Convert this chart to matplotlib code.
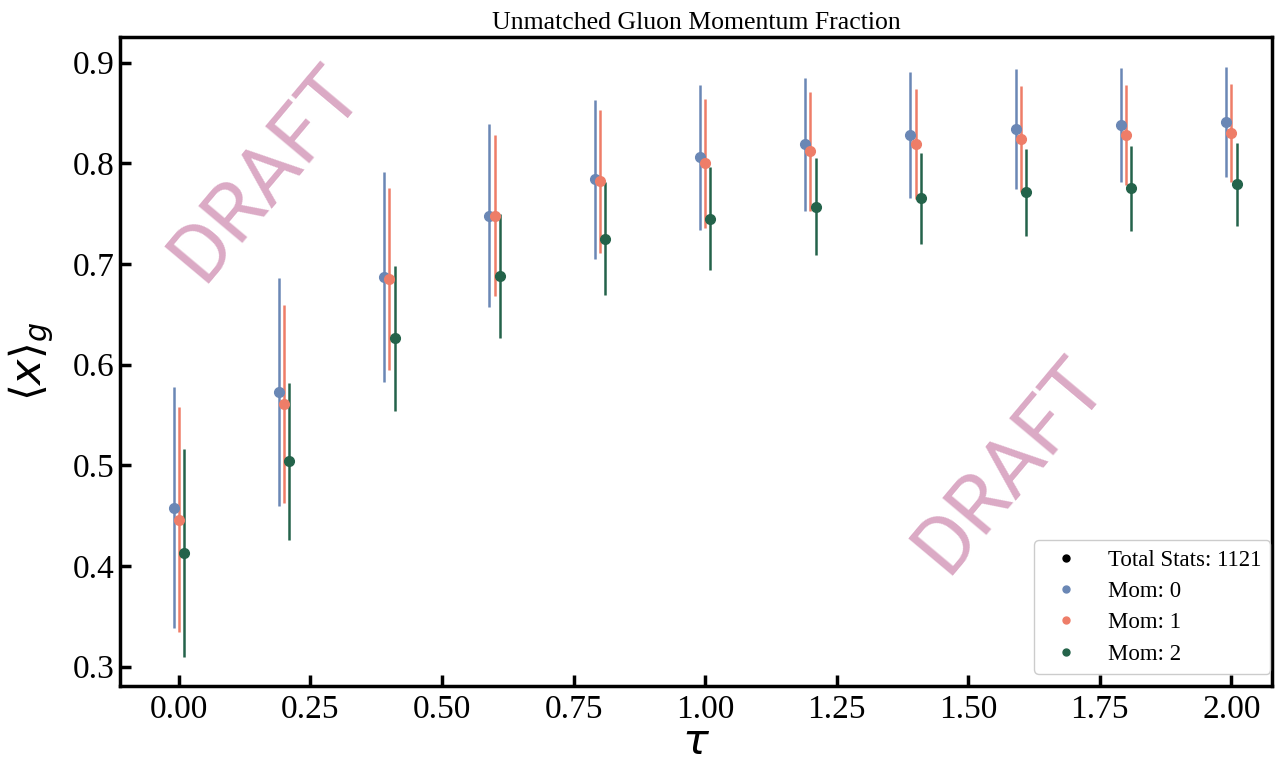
import numpy as np
import matplotlib
matplotlib.use("Agg")
import matplotlib.pyplot as plt
from matplotlib.lines import Line2D

# flow time values and per-momentum fits
tau = [0.0, 0.2, 0.4, 0.6, 0.8, 1.0, 1.2, 1.4, 1.6, 1.8, 2.0]

mom0 = [0.458, 0.573, 0.687, 0.748, 0.784, 0.806, 0.819, 0.828, 0.834, 0.838, 0.841]
mom0_err = [0.120, 0.113, 0.104, 0.091, 0.079, 0.072, 0.066, 0.063, 0.060, 0.057, 0.055]

mom1 = [0.446, 0.561, 0.685, 0.748, 0.782, 0.800, 0.812, 0.819, 0.824, 0.828, 0.830]
mom1_err = [0.112, 0.098, 0.090, 0.080, 0.071, 0.064, 0.059, 0.055, 0.053, 0.050, 0.049]

mom2 = [0.413, 0.504, 0.626, 0.688, 0.725, 0.745, 0.757, 0.765, 0.771, 0.775, 0.779]
mom2_err = [0.103, 0.078, 0.072, 0.062, 0.056, 0.051, 0.048, 0.045, 0.043, 0.042, 0.041]

labels = ["Mom: 0", "Mom: 1", "Mom: 2"]
colors = ["#6a87b5", "#ee7d68", "#24634a"]
shifts = [-0.01, 0.0, 0.01]

fig = plt.figure(figsize=(12.75, 7.62), dpi=100)
ax = fig.add_axes([0.094, 0.1, 0.904, 0.851])

tau = np.array(tau)
series = [(mom0, mom0_err), (mom1, mom1_err), (mom2, mom2_err)]
for (vals, errs), c, s in zip(series, colors, shifts):
    ax.errorbar(tau + s, vals, yerr=errs, fmt="o", color=c, ms=7,
                elinewidth=1.8, capsize=0)

ax.set_xlim(-0.112, 2.078)
ax.set_ylim(0.281, 0.925)
ax.set_xticks([0, 0.25, 0.5, 0.75, 1.0, 1.25, 1.5, 1.75, 2.0])
ax.set_xticklabels(["0.00", "0.25", "0.50", "0.75", "1.00", "1.25", "1.50", "1.75", "2.00"])
ax.set_yticks([0.3, 0.4, 0.5, 0.6, 0.7, 0.8, 0.9])

for lab in ax.get_xticklabels() + ax.get_yticklabels():
    lab.set_fontfamily("Liberation Serif")
    lab.set_fontsize(24)
ax.tick_params(direction="in", length=8, width=2.5)
ax.tick_params(axis="x", pad=6)
for sp in ax.spines.values():
    sp.set_linewidth(2.5)

ax.set_xlabel(r"$\tau$", fontsize=31)
ax.xaxis.set_label_coords(0.5, -0.086)
ax.xaxis.label.set_va("center")
ax.set_ylabel(r"$\langle x \rangle_g$", fontsize=31)
ax.yaxis.set_label_coords(-0.077, 0.5)
ax.yaxis.label.set_va("center")
ax.set_title("Unmatched Gluon Momentum Fraction", fontfamily="Liberation Serif",
             fontsize=18.5, pad=6)

# watermarks
for xx, yy in [(0.127, 0.79), (0.773, 0.34)]:
    ax.text(xx, yy, "DRAFT", transform=ax.transAxes, rotation=50,
            fontsize=59, color="#dbaac5", family="Roboto",
            ha="center", va="center", zorder=0)

handles = [Line2D([], [], ls="", marker="o", ms=5, color="black")]
handles += [Line2D([], [], ls="", marker="o", ms=5, color=c) for c in colors]
ax.legend(handles, ["Total Stats: 1121"] + labels, loc="lower right",
          prop={"family": "Liberation Serif", "size": 16.5},
          labelspacing=0.45, framealpha=1.0, borderaxespad=0.1,
          bbox_to_anchor=(1.0, 0.015))

fig.savefig("out.png", dpi=100)
